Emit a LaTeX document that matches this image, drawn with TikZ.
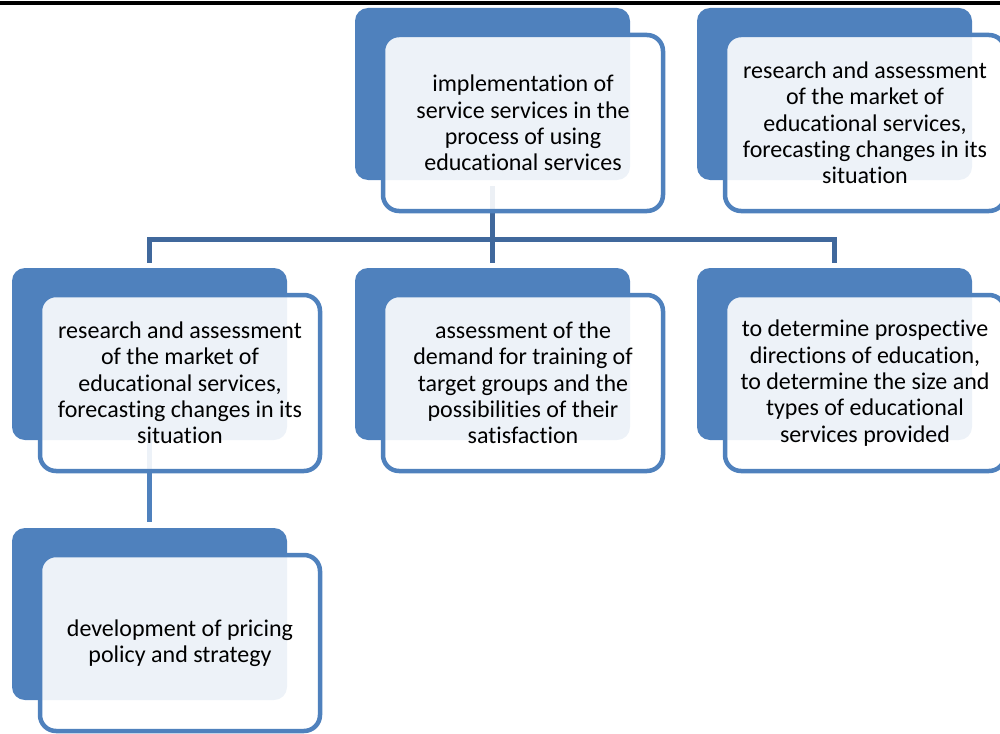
\documentclass[tikz,border=0pt]{standalone}
\usepackage{fontspec}
\setmainfont[Ligatures=NoCommon]{Carlito}
\usetikzlibrary{backgrounds}
\definecolor{accent}{RGB}{79,129,189}
\definecolor{linkblue}{RGB}{64,104,156}

% back tile + framed front card, placed by the back tile's top-left corner
\newcommand\cardpair[4]{%
  \node[backbox] (back#1) at (#2+137.5, #3+86) {};
  \node[frontbox] (front#1) at (#2+168, #3+115) {#4};
}

\begin{document}
\begin{tikzpicture}[x=1pt,y=-1pt,
  backbox/.style={rectangle, rounded corners=13pt, fill=accent,
    minimum width=275pt, minimum height=172pt, inner sep=0pt},
  frontbox/.style={rectangle, rounded corners=16pt, draw=accent, line width=4.5pt,
    fill=white, fill opacity=0.9, text opacity=1, text=black,
    minimum width=280pt, minimum height=176pt, inner sep=0pt, align=center,
    font=\fontsize{24}{26.3}\selectfont},
  link/.style={draw=linkblue, line width=5pt},
]
\useasboundingbox (0,0) rectangle (1000,733);

% rule across the top
\fill[black] (0,1) rectangle (1000,5);

\cardpair{A}{355}{8}{implementation of\\service services in the\\process of using\\educational services}
\cardpair{B}{697}{8}{research and assessment\\of the market of\\educational services,\\forecasting changes in its\\situation}
\cardpair{C}{12}{268}{research and assessment\\of the market of\\educational services,\\forecasting changes in its\\situation}
\cardpair{D}{355}{268}{assessment of the\\demand for training of\\target groups and the\\possibilities of their\\satisfaction}
\cardpair{E}{697}{268}{to determine prospective\\directions of education,\\to determine the size and\\types of educational\\services provided}
\cardpair{F}{12}{528}{development of pricing\\policy and strategy}

\coordinate (bus) at (0,239.5);

\begin{scope}[on background layer]
  \draw[link, shorten <=6pt, shorten >=5pt] (backA.south) -- (backD.north);
  \draw[link, shorten <=5pt, shorten >=5pt] (backC.north) -- (backC.north |- bus)
    -- (backE.north |- bus) -- (backE.north);
  \draw[link, draw=accent, shorten >=6pt] (backC.south) -- (backF.north);
\end{scope}
\end{tikzpicture}
\end{document}
